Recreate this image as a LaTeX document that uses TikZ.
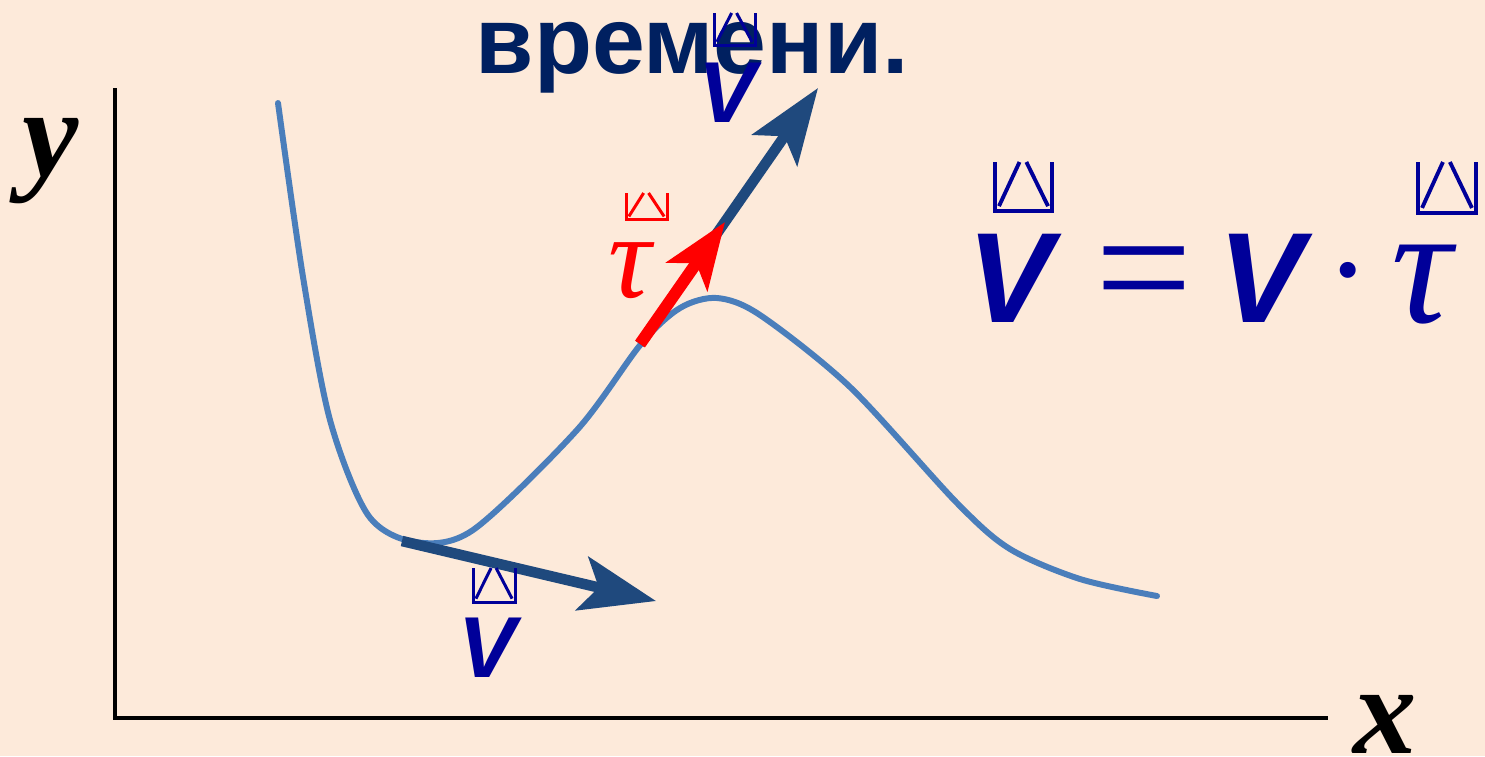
\documentclass[tikz,border=0pt]{standalone}
\usepackage{fontspec}
\setmainfont{Liberation Serif}
\newfontfamily\arialfont{Liberation Sans}
\usepackage{xcolor}
\definecolor{bgpeach}{HTML}{FDEADA}
\definecolor{curveblue}{HTML}{4A7EBB}
\definecolor{vecnavy}{HTML}{1F497D}
\definecolor{letterblue}{HTML}{000099}
\definecolor{titlenavy}{HTML}{002060}
\usetikzlibrary{arrows.meta}
\tikzset{
  vecmark/.pic={
    \draw (0,0) -- (0,1) -- (1,1) -- (1,0);
    \draw (0.07,0.9) -- (0.43,0) (0.55,0) -- (0.93,0.9);
  }
}

\begin{document}
\begin{tikzpicture}[x=0.01cm, y=-0.01cm,
  axisline/.style={line width=1.4pt, black},
  curveline/.style={line width=1.7pt, curveblue, line cap=round, line join=round},
  vecarrow/.style={line width=3pt, vecnavy, -{Stealth[length=21.5pt, width=15.5pt, inset=4.8pt]}},
  tauarrow/.style={line width=3.4pt, red, -{Stealth[length=18.8pt, width=14pt, inset=4.5pt]}},
  vletter/.style={font=\arialfont\bfseries\itshape\fontsize{#1}{#1}\selectfont, text=letterblue, inner sep=0pt, anchor=base},
  tauletter/.style={font=\itshape\fontsize{#1}{#1}\selectfont, inner sep=0pt, anchor=base},
  axislabel/.style={font=\bfseries\itshape\fontsize{36pt}{36pt}\selectfont, inner sep=0pt, anchor=base}]
  \useasboundingbox (0,0) rectangle (1485,756);
  \fill[bgpeach] (0,0) rectangle (1485,756);
  % Title
  \node[font=\arialfont\bfseries\fontsize{27pt}{28pt}\selectfont, text=titlenavy, inner sep=0pt, anchor=base west] (title) at (475,73) {времени.};
  % Axes
  \coordinate (O) at (115,718);
  \coordinate (ytop) at (115,88);
  \coordinate (xend) at (1328,718);
  \draw[axisline] (ytop) -- (O) -- (xend);
  \node[axislabel] (ylab) at (51,176) {y};
  \node[axislabel] (xlab) at (1385,753) {x};
  % Trajectory
  \draw[curveline] plot[smooth, tension=0.5] coordinates {(278,103) (303,277) (330,420) (368,515) (415,542) (473,530) (577,430) (641,344) (680,308) (717,298) (760,315) (850,387) (957,503) (1010,549) (1080,579) (1157,596)};
  % Velocity vectors
  \coordinate (pbot) at (402,541);
  \coordinate (pbottip) at (656,601);
  \coordinate (ptop) at (640,344);
  \coordinate (ptoptip) at (818,88);
  \coordinate (ptautip) at (725,222);
  \draw[vecarrow] (pbot) -- (pbottip);
  \draw[vecarrow] (ptop) -- (ptoptip);
  \draw[tauarrow] (ptop) -- (ptautip);
  % Letters near the vectors
  \node[vletter=24.6pt] (vbot) at (487,677) {V};
  \node[vletter=24.6pt] (vtop) at (727,122) {V};
  \node[tauletter=34pt, text=red] (taured) at (630,297) {τ};
  \pic[color=letterblue, line width=0.85pt, xscale=42, yscale=34] at (473,568) {vecmark};
  \pic[color=letterblue, line width=0.85pt, xscale=41, yscale=32] at (714,13) {vecmark};
  \pic[color=red, line width=0.85pt, xscale=41, yscale=26] at (626,193) {vecmark};
  % Formula
  \node[vletter=36.5pt] (vleft) at (1010,322) {V};
  \node[tauletter=49pt, text=letterblue] (eq) at (1143,325) {=};
  \node[vletter=36.5pt] (vright) at (1261,322) {V};
  \node[font=\fontsize{19pt}{19pt}\selectfont, text=letterblue, inner sep=0pt] (dot) at (1348,277) {•};
  \node[tauletter=48pt, text=letterblue] (tauf) at (1422,322) {τ};
  \pic[color=letterblue, line width=1.1pt, xscale=57, yscale=49] at (995,162) {vecmark};
  \pic[color=letterblue, line width=1.1pt, xscale=58, yscale=51] at (1418,162) {vecmark};
\end{tikzpicture}
\end{document}
